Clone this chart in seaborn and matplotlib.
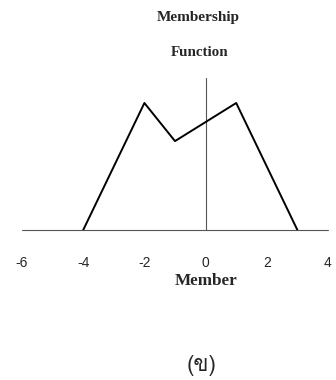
import numpy as np
import pandas as pd
import seaborn as sns
import matplotlib.pyplot as plt
from matplotlib import font_manager
from matplotlib.ft2font import FT2Font

# membership function points
member = [-4, -2, -1, 1, 3]
membership = [0, 1, 0.7, 1, 0]
tick_vals = [-6, -4, -2, 0, 2, 4]
tick_labels = ["-6", "-4", "-2", "0", "2", "4"]
caption = "(ข)"

# find a font that has the thai glyph
thai_font = "DejaVu Sans"
for f in font_manager.fontManager.ttflist:
    try:
        if ord("ข") in FT2Font(f.fname).get_charmap():
            thai_font = f.name
            break
    except Exception:
        pass

sns.set_style("white")
data = pd.DataFrame({"Member": member, "Membership": membership})

fig = plt.figure(figsize=(3.36, 3.80), dpi=100)
ax = fig.add_axes([22 / 336, 150 / 380, 306 / 336, 152.4 / 380])
sns.lineplot(data=data, x="Member", y="Membership", color="black", linewidth=1.4, ax=ax)
ax.axhline(0, color="#555555", linewidth=0.8, zorder=0, clip_on=False)
ax.axvline(0, color="#555555", linewidth=0.8, zorder=0, clip_on=False)
ax.set_xlim(-6, 4)
ax.set_ylim(0, 1.2)
sns.despine(ax=ax, left=True, bottom=True)
ax.set_yticks([])
ax.set_xticks(tick_vals)
ax.set_xticklabels(tick_labels, fontsize=10, family="Liberation Sans")
ax.tick_params(axis="x", length=0, pad=19)
ax.set_xlabel("Member", fontsize=12.3, family="Liberation Serif", fontweight="bold")
ax.xaxis.set_label_coords(0.6, -43 / 152.4)
ax.set_ylabel("")

fig.text(198 / 336, 1 - 18 / 380, "Membership", ha="center", va="center",
         fontsize=11, family="Liberation Serif", fontweight="bold")
fig.text(200 / 336, 1 - 52 / 380, "Function", ha="center", va="center",
         fontsize=10.8, family="Liberation Serif", fontweight="bold")
fig.text(202 / 336, 1 - 365 / 380, caption, ha="center", va="center",
         fontsize=16, family=[thai_font, "DejaVu Sans"])

fig.savefig("out.png", dpi=100)
